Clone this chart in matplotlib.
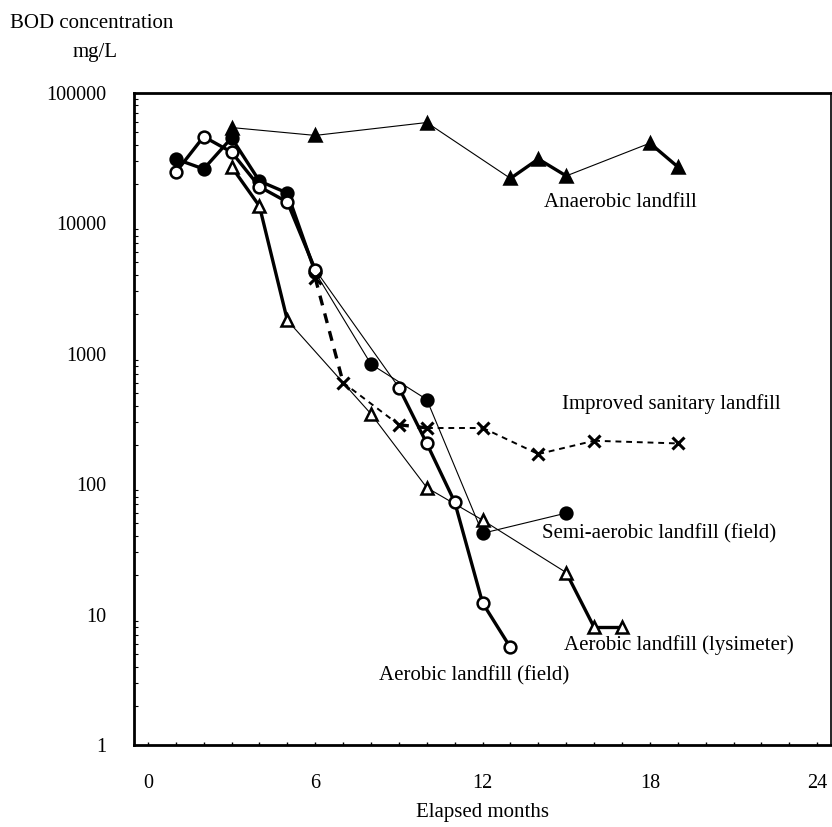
import numpy as np
import matplotlib
matplotlib.use("Agg")
import matplotlib.pyplot as plt

plt.rcParams["font.family"] = ["Liberation Serif", "DejaVu Serif"]

# data (months, BOD mg/L)
anaerobic_months = [3, 6, 10, 13, 14, 15, 18, 19]
anaerobic_bod = [54000, 47000, 59000, 22000, 31000, 23000, 41000, 27000]

semi_months = [1, 2, 3, 4, 5, 6, 8, 10, 12, 15]
semi_bod = [31000, 26000, 45000, 21000, 17000, 4200, 830, 445, 42, 60]

aer_field_months = [1, 2, 3, 4, 5, 6, 9, 10, 11, 12, 13]
aer_field_bod = [24500, 46000, 35000, 19000, 14500, 4400, 550, 205, 73, 12.3, 5.6]

aer_lys_months = [3, 4, 5, 8, 10, 12, 15, 16, 17]
aer_lys_bod = [27000, 13500, 1800, 345, 94, 53, 21, 8, 8]

improved_months = [6, 7, 9, 10, 12, 14, 16, 19]
improved_bod = [3800, 600, 285, 270, 270, 170, 215, 205]

x_ticks = [0, 6, 12, 18, 24]
y_ticks = [1, 10, 100, 1000, 10000, 100000]


def draw_series(ax, months, vals, marker, filled, ls="-", thin_lw=0.8):
    # consecutive monthly readings joined with a heavy line, gaps with a thin one
    for i in range(len(months) - 1):
        thick = months[i + 1] - months[i] == 1
        ax.plot(months[i:i + 2], vals[i:i + 2], color="black", ls=ls,
                lw=2.4 if thick else thin_lw, zorder=2)
    ax.plot(months, vals, ls="none", marker=marker, ms=8.5 if marker != "x" else 9,
            mfc="black" if filled else "white", mec="black",
            mew=2.2 if marker == "x" else 1.8, zorder=3)


fig = plt.figure(figsize=(8.32, 8.27), dpi=100)
ax = fig.add_axes([0.161, 0.099, 0.838, 0.789])

draw_series(ax, anaerobic_months, anaerobic_bod, "^", True)
draw_series(ax, semi_months, semi_bod, "o", True)
draw_series(ax, aer_field_months, aer_field_bod, "o", False)
draw_series(ax, aer_lys_months, aer_lys_bod, "^", False)
draw_series(ax, improved_months, improved_bod, "x", True, ls=(0, (3, 2.5)), thin_lw=1.4)

ax.set_yscale("log")
ax.set_ylim(1, 100000)
ax.set_xlim(-0.5, 24.5)
ax.set_xticks(x_ticks)
ax.set_xticks(range(1, 25), minor=True)
ax.set_yticks(y_ticks)
ax.set_yticklabels([str(v) for v in y_ticks])
ax.tick_params(axis="both", which="both", direction="in", labelsize=14.5)
ax.tick_params(axis="x", which="both", length=2, width=1, pad=21)
ax.tick_params(axis="y", which="major", length=0, pad=20)
ax.tick_params(axis="y", which="minor", length=3, width=0.8)

for side in ["left", "bottom", "top"]:
    ax.spines[side].set_linewidth(2)
ax.spines["right"].set_linewidth(1.2)

fs = 15
ax.text(14.2, 14400, "Anaerobic landfill", fontsize=fs, va="center")
ax.text(14.86, 414, "Improved sanitary landfill", fontsize=fs, va="center")
ax.text(14.14, 41.7, "Semi-aerobic landfill (field)", fontsize=fs, va="center")
ax.text(14.93, 5.8, "Aerobic landfill (lysimeter)", fontsize=fs, va="center")
ax.text(8.27, 3.4, "Aerobic landfill (field)", fontsize=fs, va="center")

fig.text(0.11, 0.972, "BOD concentration", fontsize=fs, ha="center", va="center")
fig.text(0.114, 0.937, "mg/L", fontsize=fs, ha="center", va="center")
fig.text(0.58, 0.006, "Elapsed months", fontsize=fs, ha="center", va="bottom")

fig.savefig("out.png", dpi=100)
